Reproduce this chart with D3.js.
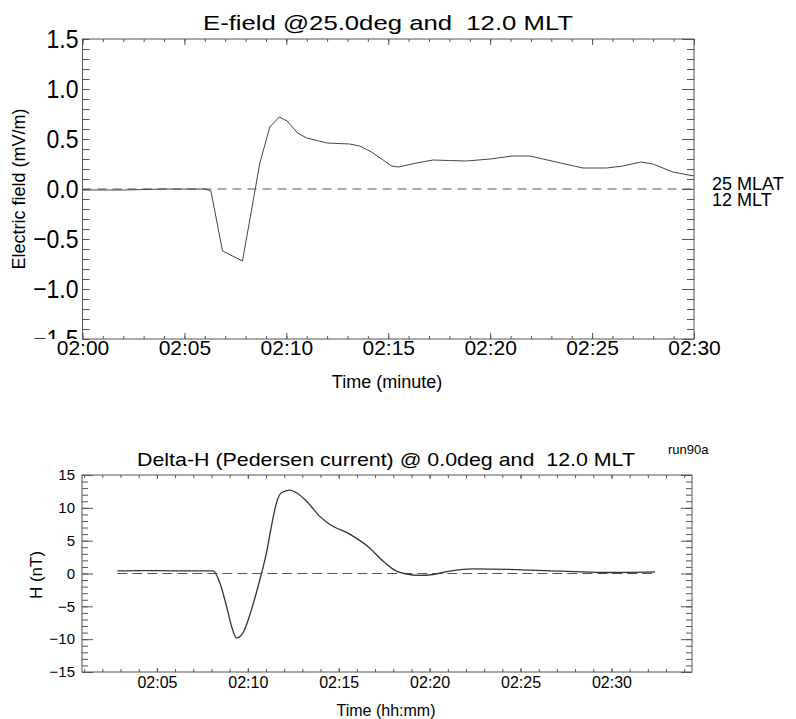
<!DOCTYPE html>
<html>
<head>
<meta charset="utf-8">
<script src="https://cdnjs.cloudflare.com/ajax/libs/d3/7.8.5/d3.min.js"></script>
<style>
  body { margin: 0; background: #fff; }
  svg { font-family: "Liberation Sans", Arial, Helvetica, sans-serif; display: block; }
</style>
</head>
<body>
<svg id="chart"></svg>
<script>
// E-field at 25 MLAT, 12 MLT (time in minutes after 02:00, mV/m)
var eTime  = [0, 1, 2, 3, 4, 5, 6, 6.3, 6.87, 7.85, 8.7, 9.19, 9.65, 10.04, 10.55, 11.0, 12.0, 13.1, 13.6, 14.18, 14.75, 15.16, 15.5, 16.38, 17.2, 18.0, 18.83, 20.0, 21.1, 21.94, 23.24, 24.55, 25.7, 26.5, 27.41, 27.98, 28.96, 30];
var eField = [-0.01, -0.01, -0.01, -0.005, 0, 0, 0, -0.02, -0.62, -0.72, 0.26, 0.62, 0.72, 0.68, 0.56, 0.51, 0.46, 0.45, 0.43, 0.37, 0.29, 0.23, 0.22, 0.26, 0.29, 0.285, 0.28, 0.30, 0.33, 0.33, 0.27, 0.21, 0.21, 0.23, 0.27, 0.25, 0.17, 0.13];

// Delta-H at 0 deg, 12 MLT (minutes after 02:00, nT)
var hTime  = [2.82, 4, 6, 8.1, 8.46, 8.83, 9.1, 9.38, 9.74, 10.2, 10.57, 11.03, 11.3, 11.58, 11.85, 12.31, 12.68, 13.23, 13.96, 14.5, 15.6, 16.7, 17.43, 18.17, 18.6, 19.45, 20.18, 21.1, 22.38, 24.76, 27.3, 29.5, 32.4];
var hField = [0.4, 0.45, 0.4, 0.4, -1.4, -5, -8, -9.8, -9.0, -5.5, -1.9, 3.2, 7.2, 10.8, 12.3, 12.7, 12.3, 11.0, 8.7, 7.5, 6.0, 3.9, 1.9, 0.35, 0.0, -0.3, -0.15, 0.35, 0.7, 0.6, 0.35, 0.15, 0.25];

// Tick values
var topXTicks = [0, 5, 10, 15, 20, 25, 30];
var topYTicks = [-1.5, -1.0, -0.5, 0.0, 0.5, 1.0, 1.5];
var botXTicks = [5, 10, 15, 20, 25, 30];
var botYTicks = [-15, -10, -5, 0, 5, 10, 15];

var width = 796, height = 719;
var lineColor = "#555";

var svg = d3.select("#chart")
    .attr("width", width)
    .attr("height", height);

// clip for the left tick labels of the top panel (the -1.5 is cut by the time labels)
svg.append("defs").append("clipPath").attr("id", "ylabClip")
  .append("rect").attr("x", 0).attr("y", 0).attr("width", 82).attr("height", 339);

var timeFmt = function(d) { return "02:" + d3.format("02d")(d); };

// draw a framed IDL-style box with inward ticks on all four sides
function drawFrame(g, x, y, opt) {
  var x0 = x.range()[0], x1 = x.range()[1];
  var y0 = y.range()[0], y1 = y.range()[1];

  g.append("rect")
    .attr("x", x0).attr("y", y1)
    .attr("width", x1 - x0).attr("height", y0 - y1)
    .attr("fill", "none")
    .attr("stroke", lineColor)
    .attr("stroke-width", 1);

  function axis(a, transform, size, values, fmt, fontSize) {
    var ax = g.append("g")
      .attr("transform", transform)
      .call(a.tickValues(values).tickSize(-size).tickSizeOuter(0)
             .tickPadding(opt.pad).tickFormat(fmt || ""));
    ax.select(".domain").remove();
    ax.selectAll("line").attr("stroke", lineColor);
    ax.selectAll("text").attr("fill", "#000").attr("font-size", fontSize);
    return ax;
  }

  // x axes
  var xb = axis(d3.axisBottom(x), "translate(0," + y0 + ")", opt.xMajor, opt.xTicks, timeFmt, opt.xFont);
  xb.selectAll("text").attr("dy", null).attr("y", opt.xLabelY);
  axis(d3.axisBottom(x), "translate(0," + y0 + ")", opt.xMinor, opt.xMinorTicks, null);
  axis(d3.axisTop(x), "translate(0," + y1 + ")", opt.xMajor, opt.xTicks, null);
  axis(d3.axisTop(x), "translate(0," + y1 + ")", opt.xMinor, opt.xMinorTicks, null);

  // y axes
  var yl = axis(d3.axisLeft(y), "translate(" + x0 + ",0)", opt.yMajor, opt.yTicks, opt.yFmt, opt.yFont);
  if (opt.yStretch) yl.selectAll("text").attr("transform", "scale(1," + opt.yStretch + ")");
  if (opt.yClip) {
    yl.attr("transform", null);
    yl.selectAll(".tick").attr("transform", function() {
      return d3.select(this).attr("transform").replace("translate(0,", "translate(" + x0 + ",");
    });
    yl.attr("clip-path", "url(#" + opt.yClip + ")");
  }
  axis(d3.axisLeft(y), "translate(" + x0 + ",0)", opt.yMinor, opt.yMinorTicks, null);
  axis(d3.axisRight(y), "translate(" + x1 + ",0)", opt.yMajor, opt.yTicks, null);
  axis(d3.axisRight(y), "translate(" + x1 + ",0)", opt.yMinor, opt.yMinorTicks, null);
}

// ---------- Top panel: E-field ----------
var xTop = d3.scaleLinear().domain([0, 30]).range([82.5, 694]);
var yTop = d3.scaleLinear().domain([-1.5, 1.5]).range([339, 39]);
var gTop = svg.append("g");

drawFrame(gTop, xTop, yTop, {
  xTicks: topXTicks, xMinorTicks: d3.range(0, 31),
  yTicks: topYTicks, yMinorTicks: d3.range(-15, 16).map(function(d) { return d / 10; }),
  xMajor: 6, xMinor: 3, yMajor: 12, yMinor: 7,
  pad: 4, xLabelY: 16, xFont: 21, yFont: 23, yStretch: 1.15, yClip: "ylabClip",
  yFmt: d3.format(".1f")
});

gTop.append("line")
  .attr("x1", xTop(0)).attr("x2", xTop(30))
  .attr("y1", yTop(0)).attr("y2", yTop(0))
  .attr("stroke", lineColor).attr("stroke-dasharray", "9,6");

gTop.append("path")
  .datum(d3.range(eTime.length))
  .attr("fill", "none")
  .attr("stroke", "#444")
  .attr("stroke-width", 1)
  .attr("d", d3.line()
    .x(function(i) { return xTop(eTime[i]); })
    .y(function(i) { return yTop(eField[i]); }));

gTop.append("text")
  .attr("x", 388).attr("y", 30)
  .attr("text-anchor", "middle").attr("font-size", 21)
  .attr("textLength", 370).attr("lengthAdjust", "spacingAndGlyphs")
  .attr("xml:space", "preserve")
  .text("E-field @25.0deg and  12.0 MLT");

gTop.append("text")
  .attr("transform", "translate(25,189) rotate(-90)")
  .attr("text-anchor", "middle").attr("font-size", 18)
  .text("Electric field (mV/m)");

gTop.append("text")
  .attr("x", 387).attr("y", 388)
  .attr("text-anchor", "middle").attr("font-size", 18)
  .text("Time (minute)");

var side = gTop.append("text").attr("font-size", 18);
side.append("tspan").attr("x", 712).attr("y", 190).text("25 MLAT");
side.append("tspan").attr("x", 712).attr("y", 206).text("12 MLT");

// ---------- Bottom panel: Delta-H ----------
var xBot = d3.scaleLinear().domain([0.88, 34.43]).range([82, 692]);
var yBot = d3.scaleLinear().domain([-15, 15]).range([672, 475]);
var gBot = svg.append("g");

drawFrame(gBot, xBot, yBot, {
  xTicks: botXTicks, xMinorTicks: d3.range(1, 35),
  yTicks: botYTicks, yMinorTicks: d3.range(-15, 16),
  xMajor: 4, xMinor: 3, yMajor: 11, yMinor: 6,
  pad: 7, xLabelY: 16, xFont: 16, yFont: 15,
  yFmt: d3.format("d")
});

gBot.append("line")
  .attr("x1", xBot(hTime[0])).attr("x2", xBot(hTime[hTime.length - 1]))
  .attr("y1", yBot(0)).attr("y2", yBot(0))
  .attr("stroke", lineColor).attr("stroke-dasharray", "10,5");

gBot.append("path")
  .datum(d3.range(hTime.length))
  .attr("fill", "none")
  .attr("stroke", "#333")
  .attr("stroke-width", 1.3)
  .attr("d", d3.line()
    .curve(d3.curveMonotoneX)
    .x(function(i) { return xBot(hTime[i]); })
    .y(function(i) { return yBot(hField[i]); }));

gBot.append("text")
  .attr("x", 386).attr("y", 466)
  .attr("text-anchor", "middle").attr("font-size", 19)
  .attr("textLength", 498).attr("lengthAdjust", "spacingAndGlyphs")
  .attr("xml:space", "preserve")
  .text("Delta-H (Pedersen current) @ 0.0deg and  12.0 MLT");

gBot.append("text").attr("x", 668).attr("y", 454).attr("font-size", 13).text("run90a");

gBot.append("text")
  .attr("transform", "translate(42,575) rotate(-90)")
  .attr("text-anchor", "middle").attr("font-size", 17)
  .text("H (nT)");

gBot.append("text")
  .attr("x", 386).attr("y", 716)
  .attr("text-anchor", "middle").attr("font-size", 16)
  .text("Time (hh:mm)");
</script>
</body>
</html>
